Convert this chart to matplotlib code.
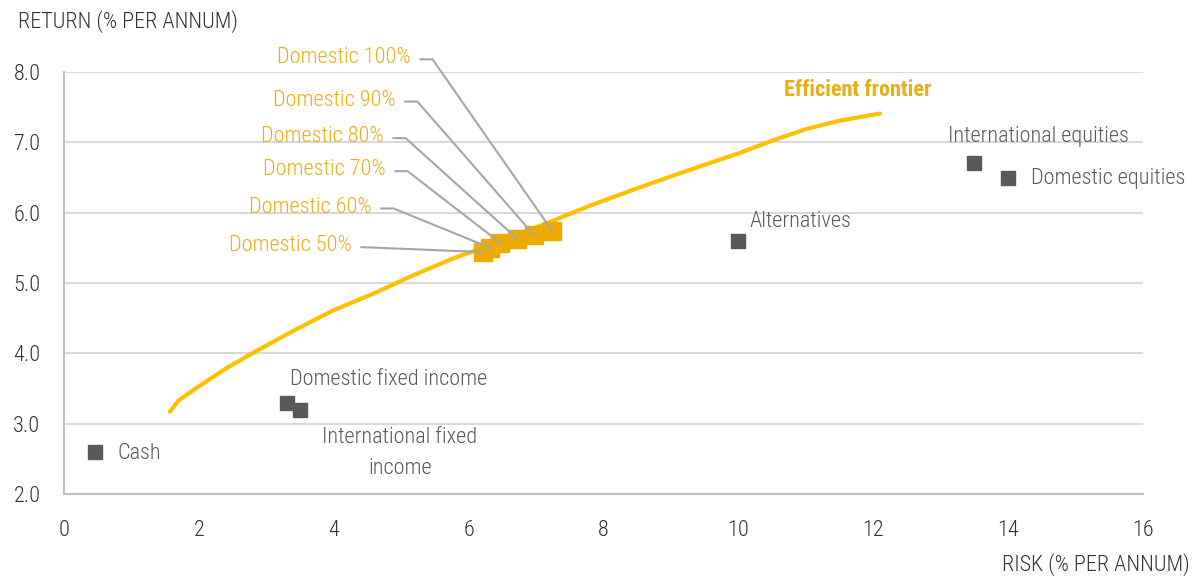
import matplotlib
matplotlib.use("Agg")
import matplotlib.pyplot as plt
import matplotlib.font_manager as fm

# ---- pick a narrow sans face if one is available ----
_fonts = fm.fontManager.ttflist
_names = {f.name for f in _fonts}
FONT = dict(family="Roboto", fontweight="light")
if "Roboto Condensed" in _names:
    FONT = dict(family="Roboto Condensed", fontweight="light")
elif "Liberation Sans Narrow" in _names:
    FONT = dict(family="Liberation Sans Narrow")

FS = 16

# ---- data ----
asset_names = ["Cash", "Domestic fixed income", "International fixed\nincome",
               "Alternatives", "International equities", "Domestic equities"]
asset_risk = [0.46, 3.30, 3.50, 10.0, 13.5, 14.0]
asset_return = [2.6, 3.3, 3.2, 5.6, 6.7, 6.5]

mix_names = ["Domestic 50%", "Domestic 60%", "Domestic 70%",
             "Domestic 80%", "Domestic 90%", "Domestic 100%"]
mix_risk = [6.21, 6.32, 6.47, 6.72, 6.97, 7.24]
mix_return = [5.44, 5.50, 5.57, 5.63, 5.68, 5.74]

frontier_risk = [1.57, 1.70, 1.92, 2.41, 2.81, 3.40, 3.99, 4.59, 5.18, 5.77,
                 6.12, 7.16, 7.80, 8.54, 9.28, 10.02, 10.52, 11.01, 11.51, 12.10]
frontier_return = [3.17, 3.33, 3.48, 3.79, 4.01, 4.32, 4.61, 4.85, 5.11, 5.35,
                   5.47, 5.85, 6.10, 6.36, 6.61, 6.85, 7.03, 7.19, 7.31, 7.41]

x_ticks = [0, 2, 4, 6, 8, 10, 12, 14, 16]
y_ticks = [2.0, 3.0, 4.0, 5.0, 6.0, 7.0, 8.0]

# ---- styling ----
GOLD_LINE = "#FFC000"
GOLD = "#EDAA00"
GOLD_TEXT = "#EBAE16"
GREY_MARK = "#595959"
GREY_TEXT = "#595959"
DARK = "#333333"
LEADER = "#A6A6A6"
GRID = "#D9D9D9"

fig = plt.figure(figsize=(11.95, 5.78), dpi=100)
ax = fig.add_axes([64 / 1195, 1 - 494 / 578, (1143 - 64) / 1195, (494 - 72) / 578])

ax.set_xlim(0, 16)
ax.set_ylim(2.0, 8.0)
ax.set_xticks(x_ticks)
ax.set_yticks(y_ticks)
ax.set_xticklabels([str(v) for v in x_ticks], color=DARK, fontsize=FS, **FONT)
ax.set_yticklabels([f"{v:.1f}" for v in y_ticks], color=DARK, fontsize=FS, **FONT)
ax.tick_params(axis="both", length=0)
ax.tick_params(axis="x", pad=19)
ax.tick_params(axis="y", pad=17)

ax.grid(axis="y", color=GRID, linewidth=1.5)
ax.set_axisbelow(True)
for side in ("top", "right"):
    ax.spines[side].set_visible(False)
for side in ("left", "bottom"):
    ax.spines[side].set_color("#BFBFBF")
    ax.spines[side].set_linewidth(1.5)

# efficient frontier
ax.plot(frontier_risk, frontier_return, color=GOLD_LINE, linewidth=3,
        solid_capstyle="round", solid_joinstyle="round", zorder=3)
ax.text(10.68, 7.74, "Efficient frontier", color=GOLD_TEXT, fontsize=16,
        ha="left", va="center", **{**FONT, "fontweight": "bold"})

# single asset classes
ax.plot(asset_risk, asset_return, linestyle="none", marker="s", markersize=10,
        color=GREY_MARK, zorder=4)
asset_label_pos = [(0.79, 2.58, "left"), (3.35, 3.63, "left"), (4.98, 2.58, "center"),
                   (10.17, 5.87, "left"), (13.11, 7.09, "left"), (14.34, 6.49, "left")]
for name, (lx, ly, ha) in zip(asset_names, asset_label_pos):
    ax.text(lx, ly, name, color=GREY_TEXT, fontsize=FS, ha=ha, va="center",
            linespacing=1.65, **FONT)

# domestic / international mixes
ax.plot(mix_risk, mix_return, linestyle="none", marker="s", markersize=13.5,
        color=GOLD, zorder=5)
mix_label_pos = [(4.27, 5.53), (4.567, 6.08), (4.775, 6.61),
                 (4.745, 7.08), (4.92, 7.60), (5.145, 8.20)]
for i, (name, (lx, ly), px, py) in enumerate(zip(mix_names, mix_label_pos, mix_risk, mix_return)):
    ax.text(lx, ly, name, color=GOLD_TEXT, fontsize=FS, ha="right", va="center",
            clip_on=False, **FONT)
    start = lx + 0.14
    if i == 0:
        xs, ys = [start, px], [ly - 0.02, py]
    else:
        xs, ys = [start, start + 0.18, px], [ly - 0.02, ly - 0.02, py]
    ax.plot(xs, ys, color=LEADER, linewidth=1.5, zorder=6, clip_on=False)

fig.text(18 / 1195, 1 - 22 / 578, "RETURN (% PER ANNUM)", color=DARK, fontsize=FS,
         ha="left", va="center", **FONT)
fig.text(1190 / 1195, 1 - 565 / 578, "RISK (% PER ANNUM)", color=DARK, fontsize=FS,
         ha="right", va="center", **FONT)

fig.savefig("out.png", dpi=100)
